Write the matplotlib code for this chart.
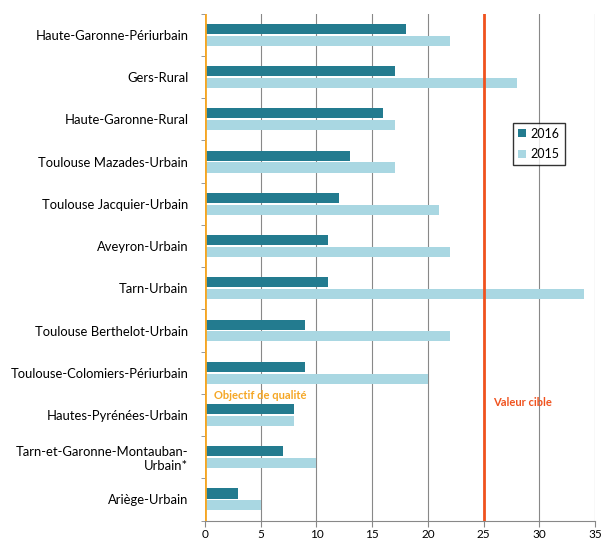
import matplotlib.pyplot as plt
import numpy as np

plt.rcParams['font.family'] = ['Lato', 'DejaVu Sans']

stations = [
    "Haute-Garonne-Périurbain",
    "Gers-Rural",
    "Haute-Garonne-Rural",
    "Toulouse Mazades-Urbain",
    "Toulouse Jacquier-Urbain",
    "Aveyron-Urbain",
    "Tarn-Urbain",
    "Toulouse Berthelot-Urbain",
    "Toulouse-Colomiers-Périurbain",
    "Hautes-Pyrénées-Urbain",
    "Tarn-et-Garonne-Montauban-\nUrbain*",
    "Ariège-Urbain",
]
val_2016 = [18, 17, 16, 13, 12, 11, 11, 9, 9, 8, 7, 3]
val_2015 = [22, 28, 17, 17, 21, 22, 34, 22, 20, 8, 10, 5]
objectif_qualite = 0
valeur_cible = 25
xticks = [0, 5, 10, 15, 20, 25, 30, 35]

fig = plt.figure(figsize=(6.03, 5.48), dpi=100)
ax = fig.add_axes([0.34, 0.05, 0.647, 0.925])

y = np.arange(len(stations))
h = 0.24
ax.barh(y - 0.14, val_2016, height=h, color='#237b8f', label='2016', zorder=3)
ax.barh(y + 0.14, val_2015, height=h, color='#a9d7e2', label='2015', zorder=3)

ax.axvline(objectif_qualite, color='#f5a623', lw=2, zorder=4)
ax.axvline(valeur_cible, color='#f0521e', lw=2, zorder=4)
ax.text(0.8, 8.55, "Objectif de qualité", color='#f5a623', fontsize=8,
        fontweight='bold', va='center', zorder=5)
ax.text(25.8, 8.7, "Valeur cible", color='#f0521e', fontsize=8,
        fontweight='bold', va='center', zorder=5)

ax.set_xlim(0, 35)
ax.set_ylim(len(stations) - 0.5, -0.5)
ax.set_xticks(xticks)
ax.set_yticks(y)
ax.set_yticklabels(stations, fontsize=9.4)
ax.tick_params(axis='y', length=0, pad=12)
ax.tick_params(axis='x', labelsize=8.5, length=4, pad=2, color='#888888')
ax.set_yticks(np.arange(len(stations) + 1) - 0.5, minor=True)
ax.tick_params(axis='y', which='minor', length=3, color='#888888')
ax.grid(axis='x', color='#888888', lw=0.8, zorder=0)

for s in ['top', 'right', 'left']:
    ax.spines[s].set_visible(False)
ax.spines['bottom'].set_color('#888888')

leg = ax.legend(loc='upper left', bbox_to_anchor=(0.79, 0.785), fontsize=9,
                frameon=True, fancybox=False, handlelength=0.6, handleheight=0.6,
                handletextpad=0.4, borderpad=0.4, labelspacing=0.7, borderaxespad=0)
leg.get_frame().set_edgecolor('black')
leg.get_frame().set_linewidth(1)

fig.savefig("out.png", dpi=100)
